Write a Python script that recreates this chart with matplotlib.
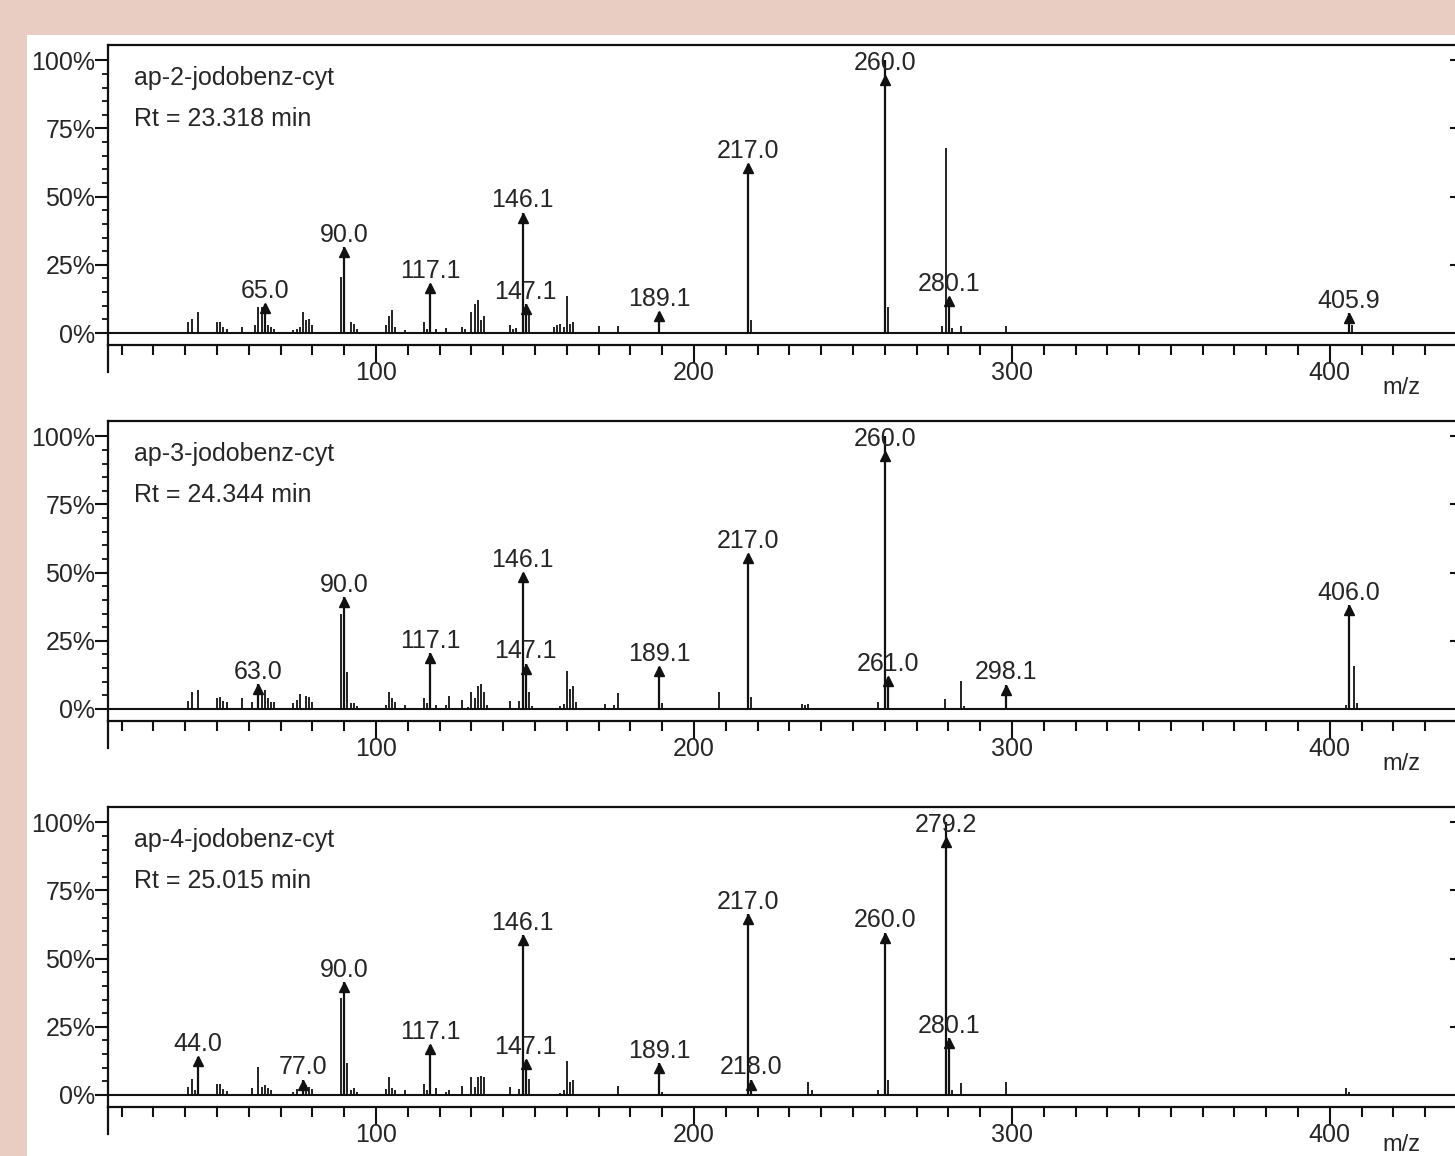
import numpy as np
import matplotlib.pyplot as plt
from matplotlib import transforms
from matplotlib.patches import Rectangle

plt.rcParams['font.family'] = ['Liberation Sans', 'DejaVu Sans']

# mass spectra (m/z, relative intensity in %)
names = ['ap-2-jodobenz-cyt', 'ap-3-jodobenz-cyt', 'ap-4-jodobenz-cyt']
rt_text = ['Rt = 23.318 min', 'Rt = 24.344 min', 'Rt = 25.015 min']

# ap-2
mz_2 = [41, 42, 44, 50, 51, 52, 53, 58, 62, 63, 64, 66, 67, 68, 74, 75, 76, 77, 78, 79, 80,
        89, 92, 93, 94, 103, 104, 105, 106, 109, 115, 116, 119, 122, 127, 128, 130, 131, 132,
        133, 134, 142, 143, 144, 148, 156, 157, 158, 159, 160, 161, 162, 170, 176, 218, 261,
        278, 279.2, 281, 284, 298, 407]
int_2 = [4.0, 5.2, 7.7, 4.0, 4.0, 2.2, 1.5, 2.2, 2.8, 9.7, 9.7, 2.8, 2.2, 1.5, 1.2, 1.5, 2.2, 7.7,
         4.9, 5.2, 2.9, 20.4, 3.9, 3.4, 1.5, 2.8, 6.1, 8.5, 2.2, 1.0, 3.9, 1.6, 1.6, 1.7, 2.2, 1.5,
         7.7, 10.7, 12.2, 4.6, 6.1, 2.8, 1.6, 1.8, 6.5, 2.2, 2.8, 3.2, 2.2, 13.7, 3.4, 3.9, 2.7,
         2.7, 4.9, 9.6, 2.7, 67.8, 1.8, 2.7, 2.7, 3.0]
lab_mz_2 = [65.0, 90.0, 117.1, 146.1, 147.1, 189.1, 217.0, 260.0, 280.1, 405.9]
lab_int_2 = [10.7, 31.5, 18.0, 44.0, 10.5, 7.8, 62.0, 100.0, 13.3, 7.2]

# ap-3
mz_3 = [41, 42, 44, 50, 51, 52, 53, 58, 61, 64, 65, 66, 67, 68, 74, 75, 76, 78, 79, 80, 89, 91,
        92, 93, 94, 103, 104, 105, 106, 109, 115, 116, 119, 122, 123, 127, 129, 130, 131, 132,
        133, 134, 135, 142, 145, 148, 149, 158, 159, 160, 161, 162, 163, 172, 175, 176, 190,
        208, 218, 234, 235, 236, 258, 279, 284, 285, 405, 407.5, 408.5]
int_3 = [3.0, 6.4, 6.9, 4.0, 4.5, 3.0, 2.4, 4.0, 2.4, 6.4, 6.9, 4.0, 2.4, 2.4, 2.1, 3.3, 5.5, 4.9,
         4.3, 2.4, 34.7, 13.5, 2.3, 2.3, 1.2, 1.6, 6.1, 4.0, 2.4, 1.6, 4.0, 2.1, 1.6, 1.6, 4.9,
         3.3, 0.9, 6.4, 4.0, 8.5, 9.1, 6.1, 1.6, 3.0, 2.8, 6.1, 1.0, 1.2, 1.8, 14.0, 7.3, 8.5,
         2.4, 1.8, 1.5, 5.7, 2.3, 6.3, 4.3, 1.8, 1.5, 1.8, 2.7, 3.5, 10.3, 1.1, 1.5, 15.7, 2.3]
lab_mz_3 = [63.0, 90.0, 117.1, 146.1, 147.1, 189.1, 217.0, 260.0, 261.0, 298.1, 406.0]
lab_int_3 = [9.1, 41.0, 20.5, 50.0, 16.5, 15.5, 57.0, 100.0, 11.8, 8.8, 38.0]

# ap-4
mz_4 = [41, 42, 43, 50, 51, 52, 53, 61, 63, 64, 65, 66, 67, 74, 75, 78, 79, 80, 89, 91, 92, 93,
        94, 103, 104, 105, 106, 109, 115, 116, 119, 122, 123, 127, 130, 131, 132, 133, 134, 142,
        145, 148, 158, 159, 160, 161, 162, 176, 190, 236, 237, 258, 261, 281, 284, 298, 405, 406]
int_4 = [3.1, 5.8, 1.8, 4.0, 4.0, 2.1, 1.6, 2.5, 10.4, 3.1, 3.7, 2.5, 1.8, 1.2, 2.1, 3.7, 2.8,
         2.1, 35.5, 11.6, 1.8, 2.5, 1.2, 2.1, 6.5, 2.5, 1.8, 1.8, 4.0, 1.8, 2.5, 1.2, 1.8, 3.3,
         6.5, 3.1, 6.7, 7.0, 6.5, 3.1, 2.1, 5.8, 0.9, 1.8, 12.6, 4.9, 5.5, 3.3, 1.2, 4.9, 1.8,
         1.8, 5.5, 1.8, 4.3, 4.9, 2.4, 1.2]
lab_mz_4 = [44.0, 77.0, 90.0, 117.1, 146.1, 147.1, 189.1, 217.0, 218.0, 260.0, 279.2, 280.1]
lab_int_4 = [14.1, 5.5, 41.3, 18.4, 58.5, 12.9, 11.6, 66.2, 5.5, 59.4, 100.0, 20.8]

spectra = [(mz_2, int_2, lab_mz_2, lab_int_2),
           (mz_3, int_3, lab_mz_3, lab_int_3),
           (mz_4, int_4, lab_mz_4, lab_int_4)]

W, H = 1455, 1156
fig = plt.figure(figsize=(W / 100, H / 100), dpi=100, facecolor='#eacdc2')
# white sheet over the pinkish backdrop
fig.patches.append(Rectangle((27 / W, 0), 1, 1 - 35 / H, transform=fig.transFigure,
                             facecolor='white', edgecolor='none', zorder=-1))

ink = '#111111'
txt = '#262626'
bottoms_px = [345, 721, 1107]   # x-axis line of each panel, pixels from top
mz_label_y = [-0.143, -0.143, -0.128]
ms = 6.5

for i, (mz, inten, lmz, lint) in enumerate(spectra):
    ax = fig.add_axes([108 / W, 1 - bottoms_px[i] / H, 1350 / W, 300 / H])
    ax.set_xlim(15.7, 440.3)
    ax.set_ylim(-4.4, 105.6)
    ax.set_facecolor('white')

    ax.axhline(0, color=ink, lw=1.5, zorder=3)
    ax.vlines(mz, 0, inten, color=ink, lw=1.3)
    ax.vlines(lmz, 0, lint, color=ink, lw=1.6)

    # arrow heads + peak labels
    tips = np.minimum(np.array(lint), 94.5)
    trans = transforms.offset_copy(ax.transData, fig=fig, y=-ms / 2, units='points')
    ax.plot(lmz, tips, ls='none', marker='^', ms=ms, color=ink, transform=trans)
    for m, t in zip(lmz, tips):
        ax.annotate(f'{m:.1f}', xy=(m, t), xytext=(0, 4), textcoords='offset points',
                    ha='center', va='baseline', fontsize=18, color=txt)

    ax.text(0.019, 0.89, names[i], transform=ax.transAxes, fontsize=18, color=txt,
            va='center', ha='left')
    ax.text(0.019, 0.752, rt_text[i], transform=ax.transAxes, fontsize=18, color=txt,
            va='center', ha='left')
    ax.text(0.958, mz_label_y[i], 'm/z', transform=ax.transAxes, fontsize=17, color=txt,
            ha='center', va='center')

    ax.set_xticks([100, 200, 300, 400])
    ax.set_xticks(np.arange(20, 441, 10), minor=True)
    ax.set_yticks([0, 25, 50, 75, 100])
    ax.set_yticklabels(['0%', '25%', '50%', '75%', '100%'])
    ax.set_yticks(np.arange(0, 101, 5), minor=True)
    ax.tick_params(axis='x', which='major', direction='out', length=13, width=1.5,
                   pad=-1.5, labelsize=18, labelcolor=txt, color=ink)
    ax.tick_params(axis='x', which='minor', direction='out', length=7, width=1.5, color=ink)
    ax.tick_params(axis='y', which='major', direction='out', length=9.5, width=1.5,
                   pad=-0.5, labelsize=18, labelcolor=txt, color=ink)
    ax.tick_params(axis='y', which='minor', direction='out', length=4.5, width=1.3, color=ink)

    for s in ax.spines.values():
        s.set_color(ink)
        s.set_linewidth(1.6)
    # left axis runs on below the m/z axis
    ax.plot([0, 0], [-0.09, 0], transform=ax.transAxes, color=ink, lw=1.6, clip_on=False)

    # short inward ticks on the right frame
    tw = ax.twinx()
    tw.set_ylim(ax.get_ylim())
    tw.set_yticks([25, 50, 75, 100])
    tw.tick_params(axis='y', direction='in', length=6, width=1.5, labelright=False, color=ink)
    for s in tw.spines.values():
        s.set_visible(False)

fig.savefig('out.png', dpi=100, facecolor=fig.get_facecolor())
